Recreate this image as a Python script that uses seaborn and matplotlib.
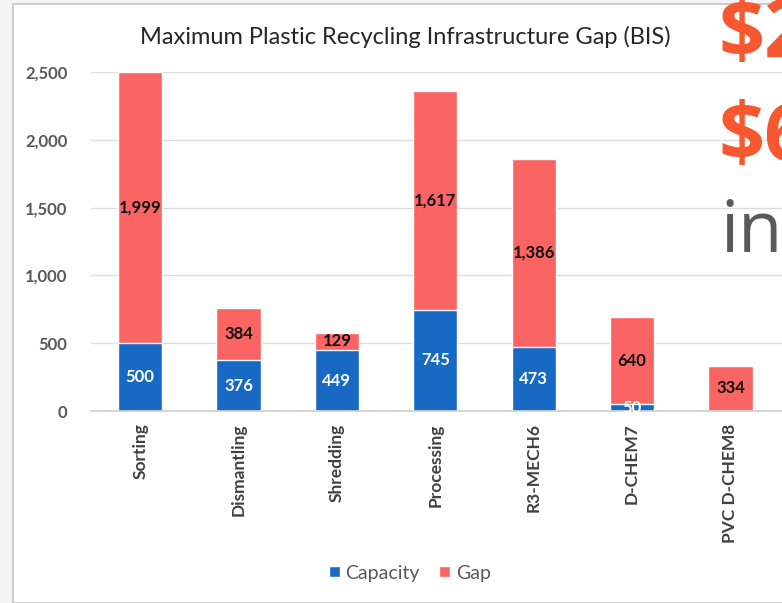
import matplotlib
matplotlib.use("Agg")
import matplotlib.pyplot as plt
from matplotlib.patches import Rectangle, Patch
import seaborn as sns
import pandas as pd

categories = ["Sorting", "Dismantling", "Shredding", "Processing",
              "R3-MECH6", "D-CHEM7", "PVC D-CHEM8"]
capacity = [500, 376, 449, 745, 473, 50, 0]
gap = [1999, 384, 129, 1617, 1386, 640, 334]
yticks = [0, 500, 1000, 1500, 2000, 2500]
title = "Maximum Plastic Recycling Infrastructure Gap (BIS)"

BLUE = "#1869c4"
RED = "#fa6462"
ORANGE = "#f8582f"

sns.set_theme(style="white")
plt.rcParams["font.family"] = ["Lato", "DejaVu Sans"]

df = pd.DataFrame({"category": categories, "capacity": capacity, "gap": gap})
df["total"] = df["capacity"] + df["gap"]

W, H = 782, 603
fig = plt.figure(figsize=(W / 100, H / 100), dpi=100)
fig.patch.set_facecolor("#f4f4f4")
fig.patches.append(Rectangle((13 / W, 0), 1, 1 - 4 / H, transform=fig.transFigure,
                             facecolor="white", edgecolor="#c4c4c4", lw=1.2, zorder=-5))

left = 91 / W
bottom = (H - 411) / H
top = (H - 72) / H
ax = fig.add_axes([left, bottom, 787 / W, top - bottom])
ax.set_facecolor("none")
ax.set_zorder(2)

sns.barplot(data=df, x="category", y="total", color=RED, width=0.45,
            saturation=1, ax=ax, zorder=3)
sns.barplot(data=df, x="category", y="capacity", color=BLUE, width=0.45,
            saturation=1, ax=ax, zorder=4)

ax.set_xlim(-0.5, 7.5)
ax.set_ylim(0, 2500)
ax.set_yticks(yticks)
ax.set_yticklabels([f"{v:,}" for v in yticks], fontsize=12, fontweight="bold",
                   color="#595959")
ax.tick_params(axis="y", length=0, pad=17)
ax.tick_params(axis="x", length=0, pad=9)
ax.set_xticks(range(len(categories)))
ax.set_xticklabels(categories, rotation=90, fontsize=12.5, fontweight="bold",
                   color="#404040", va="top", ha="center")
ax.set_xlabel("")
ax.set_ylabel("")
ax.grid(axis="y", color="#dcdcdc", lw=1, zorder=0)
for s in ["top", "right", "left"]:
    ax.spines[s].set_visible(False)
ax.spines["bottom"].set_color("#d0d0d0")
ax.spines["bottom"].set_zorder(5)

for i, (c, g) in enumerate(zip(capacity, gap)):
    if c > 0:
        ax.text(i, c / 2, f"{c:,}", ha="center", va="center", fontsize=12,
                fontweight="bold", color="white", zorder=6)
    ax.text(i, c + g / 2, f"{g:,}", ha="center", va="center", fontsize=12,
            fontweight="bold", color="#111111", zorder=6)

fig.text(405 / W, 1 - 37 / H, title, ha="center", va="center", fontsize=17,
         color="#262626")

handles = [Patch(facecolor=BLUE, label="Capacity"), Patch(facecolor=RED, label="Gap")]
fig.legend(handles=handles, loc="center", bbox_to_anchor=(410 / W, 1 - 573 / H),
           ncol=2, frameon=False, fontsize=14, handlelength=0.55, handleheight=0.55,
           handletextpad=0.3, columnspacing=1.0, labelcolor="#595959")

fig.text(718 / W, 1 - 57 / H, "$2", ha="left", va="baseline", fontsize=58,
         fontweight="bold", color=ORANGE, family=["Open Sans", "DejaVu Sans"], zorder=10)
fig.text(718 / W, 1 - 160 / H, "$6", ha="left", va="baseline", fontsize=58,
         fontweight="bold", color=ORANGE, family=["Open Sans", "DejaVu Sans"], zorder=10)
fig.text(720 / W, 1 - 252 / H, "inv", ha="left", va="baseline", fontsize=52,
         color="#595959", family=["Open Sans", "DejaVu Sans"], zorder=10)

fig.savefig("out.png", dpi=100)
